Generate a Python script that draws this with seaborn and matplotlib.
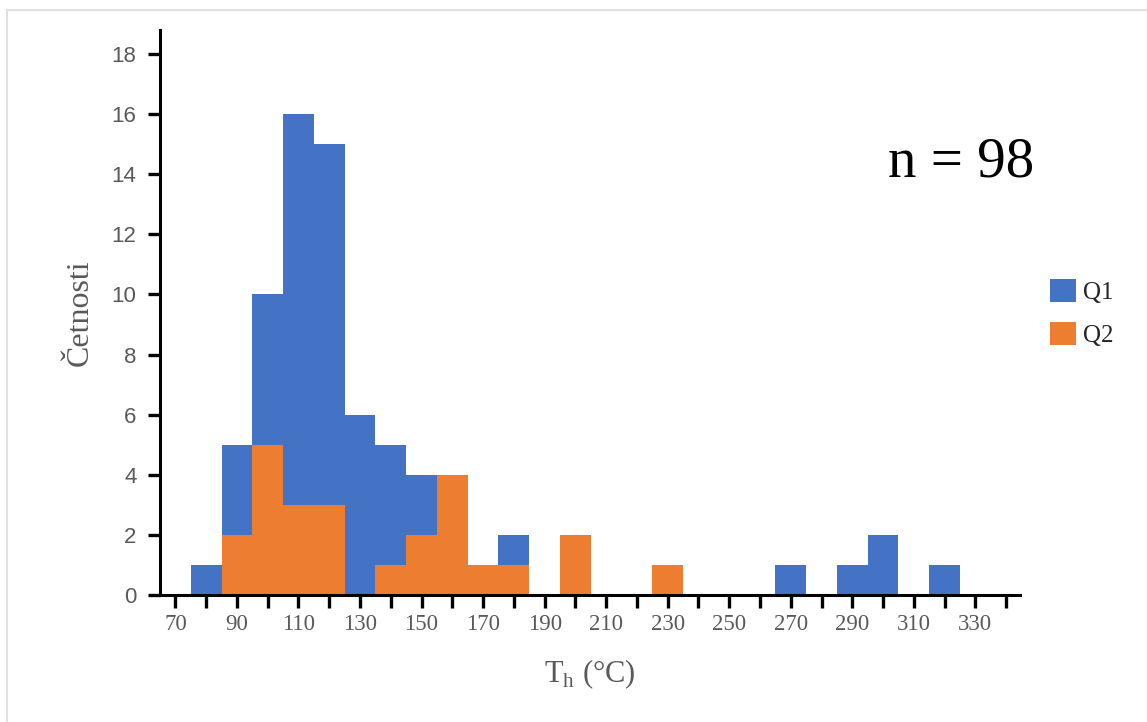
import numpy as np
import pandas as pd
import seaborn as sns
import matplotlib
matplotlib.use('Agg')
import matplotlib.pyplot as plt
from matplotlib.lines import Line2D
from matplotlib.patches import Patch

# středy tříd (šířka třídy 10 °C)
bin_centers = [80, 90, 100, 110, 120, 130, 140, 150, 160, 170, 180, 190, 200, 210,
               220, 230, 240, 250, 260, 270, 280, 290, 300, 310, 320]
q1_counts = [1, 5, 10, 16, 15, 6, 5, 4, 3, 1, 2, 0, 0, 0,
             0, 0, 0, 0, 0, 1, 0, 1, 2, 0, 1]
q2_counts = [0, 2, 5, 3, 3, 0, 1, 2, 4, 1, 1, 0, 2, 0,
             0, 1, 0, 0, 0, 0, 0, 0, 0, 0, 0]
series_names = ['Q1', 'Q2']
x_tick_labels = list(range(70, 331, 20))
y_tick_labels = list(range(0, 19, 2))
n_text = 'n = 98'

blue = '#4472C4'
orange = '#ED7D31'
grey = '#595959'

sns.set_style('white')
plt.rcParams['font.family'] = ['Liberation Serif', 'DejaVu Serif']

data = pd.DataFrame({'Th': bin_centers, 'Q1': q1_counts, 'Q2': q2_counts})

fig = plt.figure(figsize=(11.47, 7.22), dpi=100)
ax = fig.add_axes([160 / 1147, 1 - 595 / 722, 860 / 1147, 565 / 722])

sns.histplot(data=data, x='Th', weights='Q1', binwidth=10, binrange=(75, 325),
             color=blue, alpha=1, linewidth=0, ax=ax)
sns.histplot(data=data, x='Th', weights='Q2', binwidth=10, binrange=(75, 325),
             color=orange, alpha=1, linewidth=0, ax=ax)

ax.set_xlim(65, 344.5)
ax.set_ylim(0, 18.8)
ax.set_xticks(np.arange(70, 341, 10))
ax.set_xticklabels([str(v) if v in x_tick_labels else '' for v in range(70, 341, 10)],
                   fontsize=16.5, color=grey, family='Liberation Serif')
ax.set_yticks(y_tick_labels)
ax.set_yticklabels([str(v) for v in y_tick_labels], fontsize=16, color=grey,
                   family='Liberation Sans')
ax.tick_params(axis='both', direction='out', length=9, width=2.4, color='black',
               bottom=True, left=True)
ax.tick_params(axis='x', pad=5)
ax.tick_params(axis='y', pad=8)

for side in ['top', 'right']:
    ax.spines[side].set_visible(False)
for side in ['left', 'bottom']:
    ax.spines[side].set_linewidth(2.2)
    ax.spines[side].set_color('black')

ax.set_xlabel('T$_\\mathregular{h}$ (°C)', fontsize=22, color=grey, labelpad=16)
ax.set_ylabel('Četnosti', fontsize=23, color=grey, labelpad=12)

ax.text(0.931, 0.765, n_text, transform=ax.transAxes, fontsize=41, color='black',
        ha='center', va='center')

handles = [Patch(facecolor=blue, edgecolor='none'), Patch(facecolor=orange, edgecolor='none')]
fig.legend(handles, series_names, loc='center left',
           bbox_to_anchor=(1050 / 1147, 1 - 313 / 722), bbox_transform=fig.transFigure,
           frameon=False, fontsize=18, handlelength=1.05, handleheight=1.05,
           handletextpad=0.25, labelspacing=0.7, borderpad=0, borderaxespad=0)

# světle šedý okraj nahoře a vlevo
fig.add_artist(Line2D([7 / 1147, 1], [1 - 10 / 722, 1 - 10 / 722], color='#e0e0e0', lw=1.5))
fig.add_artist(Line2D([7 / 1147, 7 / 1147], [0, 1 - 10 / 722], color='#e0e0e0', lw=1.5))

fig.savefig('out.png', dpi=100)
